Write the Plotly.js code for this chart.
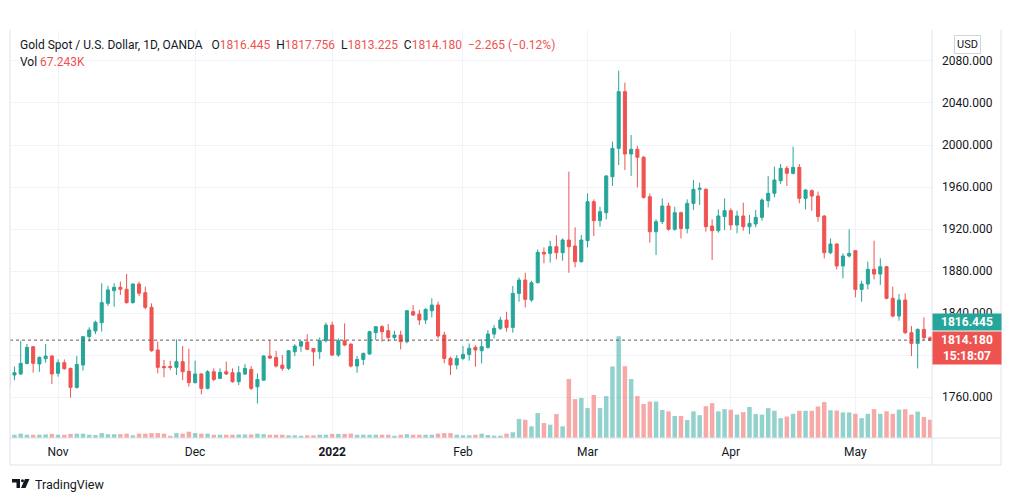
<!DOCTYPE html>
<html>
<head>
<meta charset="utf-8">
<script src="https://cdn.plot.ly/plotly-3.0.1.min.js"></script>
<style>html,body{margin:0;padding:0;background:#fff;}#chart{width:1012px;height:501px;}</style>
</head>
<body>
<div id="chart"></div>
<script>
// ---- Data (daily bars, Oct 20 2021 .. May 18 2022) ----
const open = [
1770, 1781, 1782, 1792, 1807.9, 1791.5, 1796.5, 1799, 1782.6, 1792.7,
1787.3, 1769.2, 1790.5, 1817.5, 1822.9, 1830.8, 1849.3, 1861.3, 1864.5, 1862.6,
1849.9, 1867.6, 1859.4, 1845.4, 1804.8, 1789, 1789, 1788.3, 1793.7, 1784.5,
1773.7, 1782, 1768.3, 1784.1, 1777.8, 1784.1, 1783.2, 1774.6, 1781.9, 1786.3,
1769.8, 1776.1, 1799, 1797.7, 1790.4, 1787.3, 1803.1, 1808.5, 1812.3, 1806.3,
1803.1, 1813.6, 1828.5, 1800, 1813.6, 1810.4, 1789.5, 1795.8, 1801, 1821.3,
1827, 1823.2, 1816.8, 1819, 1812.7, 1841.3, 1839, 1833.4, 1842.2, 1847.6,
1819, 1796.8, 1790.5, 1796.8, 1800.6, 1807.3, 1804.1, 1807.3, 1820, 1825.4,
1833.3, 1826.3, 1858.7, 1871.4, 1852.4, 1868.9, 1897.8, 1896.8, 1903.2, 1897.4,
1909.5, 1903.8, 1888.9, 1908.9, 1946, 1928, 1935.5, 1969.8, 1996.8, 2050.8,
1991.4, 1995.9, 1988.3, 1950.8, 1917.4, 1927, 1941.9, 1919.7, 1935.5, 1920.6,
1944.4, 1957.8, 1957.8, 1922.8, 1918.4, 1931.8, 1937.5, 1923.8, 1932.4, 1922.2,
1924.8, 1931.1, 1947, 1954, 1966, 1977.8, 1973, 1978.7, 1949.2, 1956.5,
1951.4, 1932.4, 1897.4, 1905.7, 1884.8, 1894.3, 1899.4, 1862.5, 1867.6, 1881.6,
1877.1, 1884.1, 1854, 1837.1, 1852.4, 1821.3, 1811.1, 1824.4, 1816.445
];
const high = [
1785, 1789, 1813.7, 1810.5, 1808.6, 1798.5, 1810.5, 1800, 1795.9, 1795.9,
1788, 1799.1, 1818, 1826.4, 1832.7, 1868.3, 1865.8, 1868.3, 1869.9, 1877.2,
1868, 1869.9, 1865.1, 1849.2, 1812.7, 1795.3, 1794.6, 1814.9, 1808.6, 1806,
1794.6, 1782.6, 1785.7, 1787.3, 1787.3, 1793.7, 1787.3, 1789.5, 1791.4, 1789.5,
1782.5, 1800, 1814.3, 1804, 1800, 1804.7, 1810.4, 1813.6, 1819.9, 1806.3,
1816.8, 1830.8, 1831.7, 1815.8, 1830.1, 1811, 1799, 1802.2, 1823.2, 1827.6,
1828.6, 1829.5, 1823.2, 1823.2, 1842.9, 1847.6, 1842.9, 1844.5, 1854, 1850.8,
1822.2, 1798.4, 1800, 1808.6, 1811.1, 1809.5, 1815, 1823.8, 1828.6, 1836.5,
1841.2, 1865.7, 1873.9, 1878.4, 1870.8, 1900.6, 1902.5, 1908.9, 1914, 1911.1,
1974.6, 1921.6, 1914.3, 1954, 1948.2, 1941.2, 1971.4, 2003.2, 2070.8, 2059.4,
2009.5, 1999, 1989.6, 1953.9, 1929.2, 1949.2, 1945, 1941.2, 1936.5, 1948.2,
1966.6, 1964.1, 1958.7, 1929.2, 1938.7, 1949.2, 1939.7, 1937.5, 1945.1, 1933.3,
1938.1, 1949.2, 1970.5, 1979.4, 1981.9, 1980, 1998.4, 1981.9, 1957.8, 1957.8,
1955.6, 1933.3, 1911.1, 1906.3, 1896.8, 1919.7, 1899.4, 1870.8, 1888.9, 1908.9,
1892.1, 1884.8, 1865.1, 1858.1, 1858.7, 1827.6, 1825.4, 1835.9, 1817.756
];
const low = [
1768, 1776, 1781, 1791, 1783.2, 1784, 1792.7, 1772.4, 1779.4, 1786,
1759.4, 1768, 1785.1, 1812.7, 1820, 1822.3, 1846.7, 1846, 1857.2, 1849,
1849, 1856.2, 1843.5, 1803.2, 1782.6, 1778.8, 1785.7, 1780.9, 1776, 1769.9,
1773, 1762.5, 1767.3, 1775, 1777, 1781, 1773.7, 1771.4, 1781, 1766.7,
1753.9, 1775.5, 1796.2, 1788.2, 1785, 1785.7, 1799, 1803.1, 1804.7, 1789.5,
1796.1, 1812, 1799, 1798.4, 1808.5, 1788.2, 1783.1, 1790.5, 1800.3, 1814.3,
1812.7, 1812.7, 1813.7, 1805.4, 1811.1, 1837.2, 1828.6, 1829.5, 1835.9, 1815.9,
1792.1, 1780.9, 1786.4, 1795.2, 1794.6, 1788.9, 1792, 1806, 1815.9, 1823.8,
1822.2, 1821.3, 1850.8, 1845.4, 1850.8, 1868.2, 1887.3, 1888, 1891.1, 1889.8,
1878.4, 1883.5, 1888, 1902.5, 1913.3, 1922.2, 1929.2, 1961, 1980.9, 1976.2,
1970.5, 1959.7, 1949, 1907, 1895.2, 1924.7, 1918.4, 1918.4, 1911.1, 1915.8,
1938.1, 1942.8, 1917.4, 1890.5, 1916.5, 1919, 1919, 1915.9, 1918.4, 1915.2,
1921.6, 1928, 1940.6, 1950.2, 1962.9, 1961, 1972, 1944.5, 1938.7, 1937.5,
1927, 1892, 1896.2, 1881.6, 1873, 1893, 1855, 1850.8, 1862.5, 1872,
1866.7, 1853, 1835.9, 1832.7, 1820, 1799, 1787.3, 1813.7, 1813.225
];
const close = [
1782, 1783.2, 1792.1, 1807.3, 1792.1, 1797.8, 1799, 1782, 1792.7, 1787,
1769.2, 1791.1, 1817.5, 1823.8, 1831.2, 1849.9, 1862, 1864.5, 1862.6, 1849.9,
1867.6, 1858.8, 1845.4, 1804.1, 1788.3, 1788, 1788.3, 1793.7, 1784.1, 1773.7,
1782, 1768.3, 1784.1, 1776.8, 1783.5, 1781.9, 1774.6, 1783.2, 1787.3, 1768.3,
1776.8, 1799, 1797.1, 1789.5, 1787.3, 1804.1, 1808.5, 1812.7, 1805.4, 1803.1,
1813.6, 1828.5, 1800, 1813.6, 1809.5, 1789.5, 1795.8, 1801.6, 1822.2, 1827,
1822.2, 1816.8, 1819, 1812.7, 1842.2, 1838.1, 1833.4, 1843.5, 1847.6, 1818.1,
1796.8, 1790.5, 1796.8, 1800.6, 1806.4, 1804.8, 1808, 1820, 1825.4, 1833.3,
1826.3, 1858.7, 1871.4, 1853, 1868.9, 1897.8, 1896.2, 1903.2, 1897.4, 1909.5,
1903.2, 1888.9, 1909.5, 1946, 1928, 1936.5, 1970.5, 1996.8, 2050.8, 1991.4,
1995.9, 1988.3, 1950.1, 1917.4, 1927, 1941.9, 1919.7, 1935.5, 1920.6, 1944.4,
1957.8, 1958.7, 1922.2, 1918.4, 1932.4, 1937.5, 1923.8, 1932.4, 1922.2, 1925.4,
1931.1, 1947.6, 1954, 1966.7, 1977.8, 1973, 1978.7, 1949.2, 1957.1, 1951.4,
1931.8, 1897.4, 1905.7, 1884.8, 1894.3, 1896.8, 1862.5, 1867.6, 1881.6, 1877.1,
1884.1, 1854, 1837.1, 1852.4, 1821.3, 1811.1, 1824.4, 1816.445, 1814.18
];
// volume in thousands
const volume = [
10, 12, 16, 12, 12, 12, 13, 15, 12, 12,
15, 16, 16, 12, 11, 18, 14, 14, 14, 16,
10, 16, 16, 18, 18, 16, 8, 18, 16, 23,
18, 16, 16, 12, 12, 12, 12, 13, 13, 13,
16, 14, 12, 12, 12, 10, 10, 8, 10, 10,
12, 12, 15, 15, 15, 16, 12, 12, 12, 12,
12, 12, 8, 12, 14, 12, 12, 12, 12, 16,
18, 18, 12, 10, 10, 12, 16, 11, 8.5, 8.5,
16, 21, 70, 67, 43, 92, 55, 49, 88, 43,
217, 143, 147, 110, 158, 110, 154, 263, 374, 264,
217, 154, 125, 134, 134, 103, 98, 81, 81, 66,
98, 84, 117, 128, 98, 106, 104, 86, 95, 114,
88, 86, 110, 100, 73, 79, 89, 100, 100, 100,
116, 132, 102, 101, 94, 94, 89, 73, 89, 106,
89, 98, 89, 104, 106, 86, 97, 77, 67.243
];
// month tick labels and the bar index where each month starts
const tickLabels = ['Nov', 'Dec', '<b>2022</b>', 'Feb', 'Mar', 'Apr', 'May'];
const tickBars = [8, 30, 52, 73, 93, 116, 136];

// ---- Styling ----
const UP = '#26a69a', DOWN = '#ef5350';
const UPV = 'rgba(38,166,154,0.5)', DOWNV = 'rgba(239,83,80,0.5)';
const BORDER = '#e0e3eb', GRID = '#f0f3fa', TXT = '#131722';

const W = 1012, H = 501;
const M = {l: 10, r: 80, t: 30, b: 63};
const PW = W - M.l - M.r, PH = H - M.t - M.b;
const px = x => (x - M.l) / PW;
const py = y => (H - M.b - y) / PH;

const idx = close.map((_, i) => i);
const n = close.length;
const volColors = close.map((c, i) => c >= open[i] ? UPV : DOWNV);

const traces = [
  {type: 'bar', x: idx, y: volume, yaxis: 'y2', marker: {color: volColors, line: {width: 0}},
   hoverinfo: 'skip', showlegend: false},
  {type: 'candlestick', x: idx, open: open, high: high, low: low, close: close,
   increasing: {line: {color: UP, width: 1}, fillcolor: UP},
   decreasing: {line: {color: DOWN, width: 1}, fillcolor: DOWN},
   whiskerwidth: 0, hoverinfo: 'skip', showlegend: false}
];

const last = n - 1;
const fmt = v => v.toFixed(3);
const chg = close[last] - close[last - 1];
const pct = chg / close[last - 1] * 100;
const red = s => '<span style="color:#ef5350">' + s + '</span>';
const minus = s => s.replace('-', '\u2212');
const sp = k => '\u00a0'.repeat(k);

const hdrText = 'Gold Spot / U.S. Dollar, 1D, OANDA' + sp(3) +
  'O' + red(fmt(open[last])) + sp(2) +
  'H' + red(fmt(high[last])) + sp(2) +
  'L' + red(fmt(low[last])) + sp(2) +
  'C' + red(fmt(close[last])) + sp(2) +
  red(minus(chg.toFixed(3)) + ' (' + minus(pct.toFixed(2)) + '%)');

const annotations = [
  {text: hdrText, x: px(18), y: py(45)},
  {text: 'Vol' + sp(1) + red(volume[last].toFixed(3) + 'K'), x: px(18), y: py(62)},
  {text: 'TradingView', x: px(33), y: py(484), font: {size: 12.5, color: TXT}},
].map(a => Object.assign({xref: 'paper', yref: 'paper', xanchor: 'left', yanchor: 'middle',
  showarrow: false, font: {size: 12, color: TXT}}, a));

annotations.push(
  {xref: 'paper', yref: 'paper', x: px(967), y: py(45), xanchor: 'center', yanchor: 'middle',
   text: 'USD', showarrow: false, font: {size: 11, color: TXT},
   bordercolor: '#d1d4dc', borderwidth: 1, borderpad: 2, bgcolor: '#fff'},
  {xref: 'paper', yref: 'paper', x: 1, y: py(322), xanchor: 'left', yanchor: 'middle',
   text: '<b>' + fmt(open[last]) + '</b>', showarrow: false, font: {size: 12, color: '#fff'},
   bgcolor: UP, width: 64, height: 12, borderpad: 2, align: 'center'},
  {xref: 'paper', yref: 'paper', x: 1, y: py(331), xanchor: 'left', yanchor: 'top',
   text: '<b>' + fmt(close[last]) + '</b><br><b>15:18:07</b>', showarrow: false,
   font: {size: 12, color: '#fff'}, bgcolor: DOWN, width: 64, height: 28, borderpad: 2, align: 'center'}
);

const line = (x0, y0, x1, y1) => ({type: 'line', xref: 'paper', yref: 'paper',
  x0: px(x0), y0: py(y0), x1: px(x1), y1: py(y1), line: {color: BORDER, width: 1}, layer: 'above'});
const P = (x, y) => px(x).toFixed(5) + ',' + py(y).toFixed(5);
const shapes = [
  // last price dotted line
  {type: 'line', xref: 'paper', yref: 'y', x0: 0, x1: 1, y0: close[last], y1: close[last],
   line: {color: '#6e5656', width: 1, dash: 'dot'}, layer: 'above'},
  line(10, 30, 10, 465),
  line(1001, 30, 1001, 465),
  line(10, 465, 1001, 465),
  line(932, 30, 932, 465),
  line(10, 438, 1001, 438),
  // TradingView logo
  {type: 'path', xref: 'paper', yref: 'paper', path: 'M' + P(12, 479) + 'L' + P(20, 479) + 'L' + P(20, 488) +
    'L' + P(16.5, 488) + 'L' + P(16.5, 482.5) + 'L' + P(12, 482.5) + 'Z', fillcolor: TXT, line: {width: 0}},
  {type: 'circle', xref: 'paper', yref: 'paper', x0: px(21), x1: px(24), y0: py(479.3), y1: py(482.3),
   fillcolor: TXT, line: {width: 0}},
  {type: 'path', xref: 'paper', yref: 'paper', path: 'M' + P(25, 479) + 'L' + P(29.5, 479) + 'L' + P(25.5, 488) +
    'L' + P(21, 488) + 'Z', fillcolor: TXT, line: {width: 0}}
];

const layout = {
  width: W, height: H, margin: M,
  paper_bgcolor: '#fff', plot_bgcolor: '#fff', showlegend: false,
  font: {family: 'Roboto, "Liberation Sans", sans-serif', size: 12, color: TXT},
  xaxis: {range: [0.28, 148.3], tickvals: tickBars, ticktext: tickLabels, showgrid: true,
    gridcolor: GRID, gridwidth: 1, zeroline: false, showline: false, ticks: '',
    rangeslider: {visible: false}, fixedrange: true, ticklabelstandoff: 5,
    tickfont: {size: 12, color: TXT}},
  yaxis: {range: [1721, 2109.5], side: 'right', dtick: 40, tick0: 0, tickformat: '.3f',
    showgrid: true, gridcolor: GRID, zeroline: false, showline: false, ticks: '',
    ticklabelstandoff: 9, tickfont: {size: 12, color: TXT}, fixedrange: true},
  yaxis2: {overlaying: 'y', range: [0, 1500], visible: false, fixedrange: true},
  bargap: 0.28,
  annotations: annotations,
  shapes: shapes
};

Plotly.newPlot('chart', traces, layout, {displayModeBar: false, staticPlot: true});
</script>
</body>
</html>
